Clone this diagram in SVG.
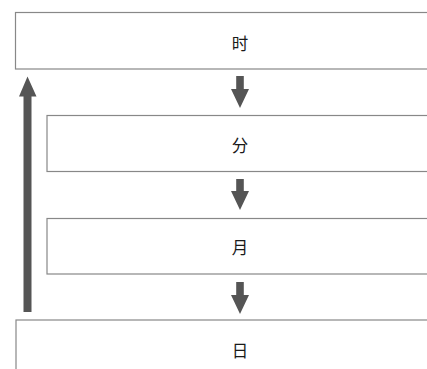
<svg xmlns="http://www.w3.org/2000/svg" width="427" height="369" viewBox="0 0 427 369">
<style>
.box{fill:#fff;stroke:#888;stroke-width:1.2}
.lbl{font-family:"Noto Sans CJK SC","Noto Sans CJK JP",sans-serif;font-size:16.5px;fill:#1a1a1a;text-anchor:middle;dominant-baseline:central}
.arr{fill:#555}
</style>
<rect width="427" height="369" fill="#fff"/>
<g id="n1"><rect class="box" x="15.5" y="12.5" width="420" height="56.5"/><text class="lbl" x="240" y="42.5">时</text></g>
<g id="n2"><rect class="box" x="47" y="115.5" width="390" height="56"/><text class="lbl" x="240" y="145">分</text></g>
<g id="n3"><rect class="box" x="47" y="218.5" width="390" height="55.5"/><text class="lbl" x="240" y="246.5">月</text></g>
<g id="n4"><rect class="box" x="16" y="320" width="420" height="60"/><text class="lbl" x="240" y="349.5">日</text></g>
<g id="connectors">
<path class="arr" d="M236.2 76 H243.8 V89 H249 L240 108 L231 89 H236.2 Z"/>
<path class="arr" d="M236.2 179 H243.8 V191 H249 L240 210 L231 191 H236.2 Z"/>
<path class="arr" d="M236.2 282 H243.8 V295 H249 L240 314 L231 295 H236.2 Z"/>
<path class="arr" d="M23.5 312 V96.5 H19 L27.5 76.5 L36.5 96.5 H31.5 V312 Z"/>
</g>
</svg>
